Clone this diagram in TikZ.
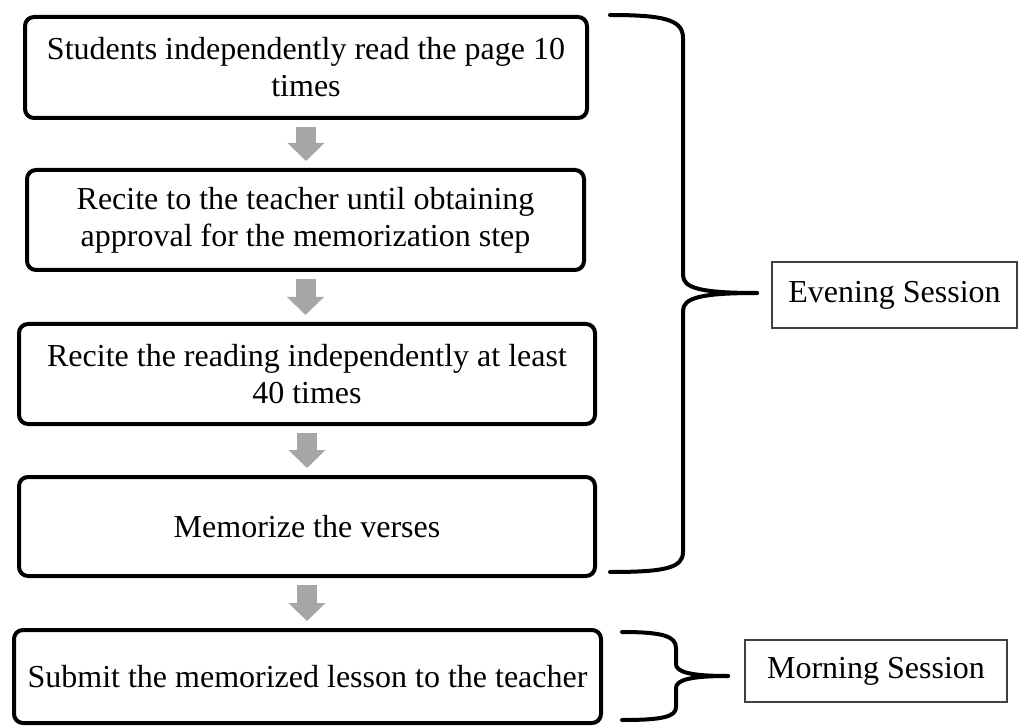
\documentclass[tikz,border=0pt]{standalone}
\usepackage{fontspec}
\setmainfont{Liberation Serif}
\usetikzlibrary{arrows.meta}
\definecolor{arrowgray}{RGB}{166,166,166}
\tikzset{
    stepbox/.style={draw, line width=4pt, rounded corners=9pt, align=center, inner sep=0pt},
    sessionbox/.style={draw=black!75, line width=1.2pt, align=center, inner sep=0pt},
    flowarrow/.style={draw=arrowgray, line width=20pt, -{Triangle[width=36pt,length=18pt]}},
    bracket/.style={line width=4pt, line cap=round, line join=round}
}
\begin{document}
\begin{tikzpicture}[x=1pt, y=-1pt, font=\fontsize{32}{37}\selectfont]
        \useasboundingbox (0,0) rectangle (1018,727);
        % steps
        \node[stepbox, minimum width=562pt, minimum height=101pt] (read) at (306, 67.5) {Students independently read the page 10\\times};
        \node[stepbox, minimum width=557pt, minimum height=100pt] (recite) at (305.5, 220) {Recite to the teacher until obtaining\\approval for the memorization step};
        \node[stepbox, minimum width=576pt, minimum height=100pt] (repeat) at (307, 374) {Recite the reading independently at least\\40 times};
        \node[stepbox, minimum width=576pt, minimum height=99pt] (memorize) at (307, 526.5) {Memorize the verses};
        \node[stepbox, minimum width=587pt, minimum height=93pt] (submit) at (307.5, 676.5) {Submit the memorized lesson to the teacher};
        
        % gray arrows
        \draw[flowarrow] ([yshift=-7pt]read.south) -- ([yshift=7pt]read.south |- recite.north);
        \draw[flowarrow] ([yshift=-7pt]recite.south) -- ([yshift=7pt]recite.south |- repeat.north);
        \draw[flowarrow] ([yshift=-7pt]repeat.south) -- ([yshift=7pt]repeat.south |- memorize.north);
        \draw[flowarrow] ([yshift=-7pt]memorize.south) -- ([yshift=7pt]memorize.south |- submit.north);
        
        % sessions
        \node[sessionbox, minimum width=245pt, minimum height=66pt] (evening) at (894.5, 295) {Evening Session};
        \node[sessionbox, minimum width=262pt, minimum height=62pt] (morning) at (876, 671) {Morning Session};
        
        % evening bracket
        \draw[bracket] (610,15) .. controls (665,15) and (683,20) .. (683,38) -- (683,275) .. controls (683,288) and (700,293) .. (757,293);
        \draw[bracket] (757,293) .. controls (700,293) and (683,298) .. (683,311) -- (683,552) .. controls (683,568) and (665,572) .. (610,572);
        % morning bracket
        \draw[bracket] (622,632) .. controls (662,632) and (676,636) .. (676,648) -- (676,664) .. controls (676,672) and (690,676) .. (728,676);
        \draw[bracket] (728,676) .. controls (690,676) and (676,680) .. (676,688) -- (676,707) .. controls (676,717) and (662,720) .. (622,720);
        
\end{tikzpicture}
\end{document}
